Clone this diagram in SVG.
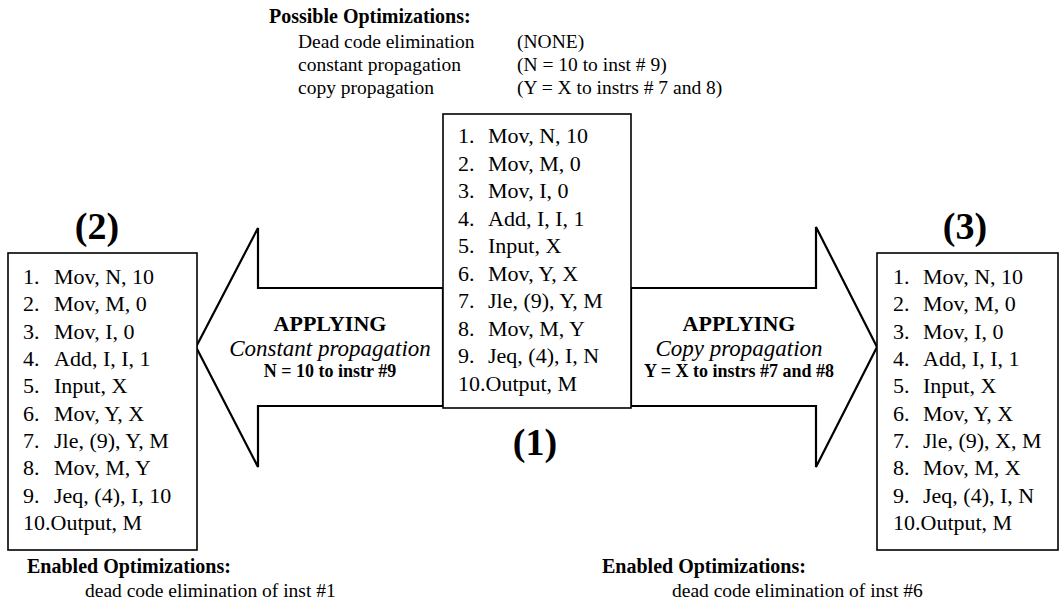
<svg xmlns="http://www.w3.org/2000/svg" width="1059" height="607" viewBox="0 0 1059 607">
  <style>
    text { font-family: "Liberation Serif", "Times New Roman", serif; fill: #000; }
    .code { font-size: 22px; }
    .info { font-size: 19.5px; }
    .head { font-size: 20px; font-weight: bold; }
    .num { font-size: 38px; font-weight: bold; text-anchor: middle; }
    .act { font-size: 22px; font-weight: bold; text-anchor: middle; }
    .kind { font-size: 23px; font-style: italic; text-anchor: middle; }
    .det { font-size: 18px; font-weight: bold; text-anchor: middle; }
    .box { fill: #fff; stroke: #000; stroke-width: 1.6; }
    .arrow { fill: #fff; stroke: #000; stroke-width: 2.2; stroke-linejoin: miter; }
  </style>

  <!-- optimizations available on the original program -->
  <g id="possible">
    <text class="head" x="269" y="23">Possible Optimizations:</text>
    <text class="info" x="298" y="48">Dead code elimination</text>
    <text class="info" x="517" y="48">(NONE)</text>
    <text class="info" x="298" y="71">constant propagation</text>
    <text class="info" x="517" y="71">(N = 10 to inst # 9)</text>
    <text class="info" x="298" y="94">copy propagation</text>
    <text class="info" x="517" y="94">(Y = X to instrs # 7 and 8)</text>
  </g>

  <!-- transformation arrows -->
  <g id="connectors">
    <g id="to-constant">
      <polygon class="arrow" points="443,288 258,288 258,228 196,347 258,467 258,406 443,406"/>
      <text class="act" x="330" y="331">APPLYING</text>
      <text class="kind" x="330" y="356">Constant propagation</text>
      <text class="det" x="330" y="377">N = 10 to instr #9</text>
    </g>
    <g id="to-copy">
      <polygon class="arrow" points="631,288 816,288 816,227 877,347 816,467 816,406 631,406"/>
      <text class="act" x="739" y="331">APPLYING</text>
      <text class="kind" x="739" y="356">Copy propagation</text>
      <text class="det" x="739" y="377">Y = X to instrs #7 and #8</text>
    </g>
  </g>

  <!-- (1) original program -->
  <g id="program-1">
    <rect class="box" x="443" y="114" width="188" height="294"/>
    <g class="code">
      <text x="458" y="143">1.</text><text x="488" y="143">Mov, N, 10</text>
      <text x="458" y="171">2.</text><text x="488" y="171">Mov, M, 0</text>
      <text x="458" y="198">3.</text><text x="488" y="198">Mov, I, 0</text>
      <text x="458" y="226">4.</text><text x="488" y="226">Add, I, I, 1</text>
      <text x="458" y="253">5.</text><text x="488" y="253">Input, X</text>
      <text x="458" y="281">6.</text><text x="488" y="281">Mov, Y, X</text>
      <text x="458" y="308">7.</text><text x="488" y="308">Jle, (9), Y, M</text>
      <text x="458" y="336">8.</text><text x="488" y="336">Mov, M, Y</text>
      <text x="458" y="363">9.</text><text x="488" y="363">Jeq, (4), I, N</text>
      <text x="458" y="391">10.Output, M</text>
    </g>
    <text class="num" x="535" y="455">(1)</text>
  </g>

  <!-- (2) after constant propagation -->
  <g id="program-2">
    <text class="num" x="97" y="239">(2)</text>
    <rect class="box" x="8" y="253" width="189" height="297"/>
    <g class="code">
      <text x="23" y="284">1.</text><text x="54" y="284">Mov, N, 10</text>
      <text x="23" y="311">2.</text><text x="54" y="311">Mov, M, 0</text>
      <text x="23" y="339">3.</text><text x="54" y="339">Mov, I, 0</text>
      <text x="23" y="366">4.</text><text x="54" y="366">Add, I, I, 1</text>
      <text x="23" y="393">5.</text><text x="54" y="393">Input, X</text>
      <text x="23" y="421">6.</text><text x="54" y="421">Mov, Y, X</text>
      <text x="23" y="448">7.</text><text x="54" y="448">Jle, (9), Y, M</text>
      <text x="23" y="475">8.</text><text x="54" y="475">Mov, M, Y</text>
      <text x="23" y="503">9.</text><text x="54" y="503">Jeq, (4), I, 10</text>
      <text x="23" y="530">10.Output, M</text>
    </g>
    <text class="head" x="27" y="573">Enabled Optimizations:</text>
    <text class="info" x="85" y="597">dead code elimination of inst #1</text>
  </g>

  <!-- (3) after copy propagation -->
  <g id="program-3">
    <text class="num" x="965" y="239">(3)</text>
    <rect class="box" x="877" y="253" width="181" height="297"/>
    <g class="code">
      <text x="893" y="284">1.</text><text x="923" y="284">Mov, N, 10</text>
      <text x="893" y="311">2.</text><text x="923" y="311">Mov, M, 0</text>
      <text x="893" y="339">3.</text><text x="923" y="339">Mov, I, 0</text>
      <text x="893" y="366">4.</text><text x="923" y="366">Add, I, I, 1</text>
      <text x="893" y="393">5.</text><text x="923" y="393">Input, X</text>
      <text x="893" y="421">6.</text><text x="923" y="421">Mov, Y, X</text>
      <text x="893" y="448">7.</text><text x="923" y="448">Jle, (9), X, M</text>
      <text x="893" y="475">8.</text><text x="923" y="475">Mov, M, X</text>
      <text x="893" y="503">9.</text><text x="923" y="503">Jeq, (4), I, N</text>
      <text x="893" y="530">10.Output, M</text>
    </g>
    <text class="head" x="602" y="573">Enabled Optimizations:</text>
    <text class="info" x="672" y="597">dead code elimination of inst #6</text>
  </g>
</svg>
